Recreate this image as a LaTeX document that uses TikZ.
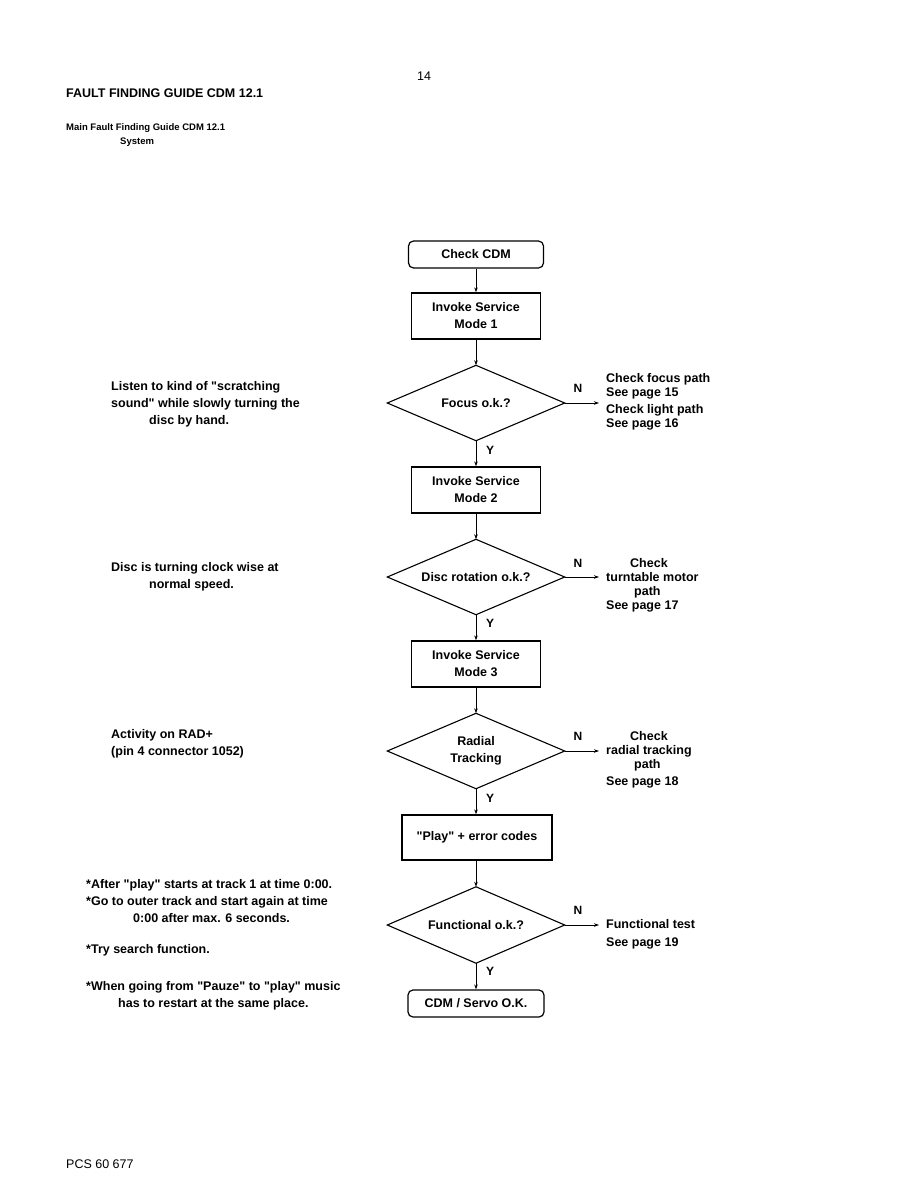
\documentclass[tikz,border=0pt]{standalone}
\usepackage{fontspec}
\setmainfont{Liberation Sans}[Ligatures=TeXOff]
\usetikzlibrary{arrows.meta}
\newcommand{\dq}{\symbol{34}}
\begin{document}
\begin{tikzpicture}[x=1pt,y=-1pt,
  every node/.style={font=\bfseries\fontsize{12.5}{17}\selectfont, inner sep=0pt},
  proc/.style={draw, line width=1.3pt, minimum width=129pt, minimum height=46pt, align=center},
  term/.style={draw, rounded corners=5pt, line width=1.2pt, minimum width=135pt, minimum height=27pt},
  dec/.style={minimum width=177pt, minimum height=75pt, align=center},
  decline/.style={line width=1.1pt, line join=miter},
  arr/.style={-{Stealth[length=5pt,width=3.5pt]}, line width=0.8pt},
  side/.style={anchor=north west, align=left},
  rside/.style={anchor=north west, align=left, font=\bfseries\fontsize{12.5}{14}\selectfont},
  yn/.style={font=\bfseries\fontsize{12}{14}\selectfont},
  plain/.style={font=\fontsize{12.5}{15}\selectfont}
]
\useasboundingbox (0,0) rectangle (918,1188);
\fill[white] (0,0) rectangle (918,1188);

% header
\node[plain] (pg) at (424,76) {14};
\node[anchor=west] (title) at (66,93) {FAULT FINDING GUIDE CDM 12.1};
\node[anchor=north west, align=left, font=\bfseries\fontsize{9.5}{14}\selectfont] (sub) at (66,123)
  {Main Fault Finding Guide CDM 12.1\\\hspace*{54pt}System};
\node[plain, anchor=west] (pcs) at (66,1164) {PCS 60 677};

% flow
\node[term] (check) at (476,254.5) {Check CDM};
\node[proc] (m1) at (476,316) {Invoke Service\\Mode 1};
\node[dec] (d1) at (476,403) {Focus o.k.?};
\node[proc] (m2) at (476,490) {Invoke Service\\Mode 2};
\node[dec] (d2) at (476,577) {Disc rotation o.k.?};
\node[proc] (m3) at (476,664) {Invoke Service\\Mode 3};
\node[dec] (d3) at (476,751) {Radial\\Tracking};
\node[proc, minimum width=150pt, minimum height=45pt] (play) at (477,837.5) {\dq Play\dq{} + error codes};
\node[dec, minimum height=76pt] (d4) at (476,925) {Functional o.k.?};
\node[term, minimum width=136pt] (ok) at (476,1003.5) {CDM / Servo O.K.};

\foreach \d in {d1,d2,d3,d4}
  \draw[decline] (\d.north) -- (\d.east) -- (\d.south) -- (\d.west) -- cycle;

\draw[arr] (check.south) -- (m1.north);
\draw[arr] (m1.south) -- (d1.north);
\draw[arr] (d1.south) -- (m2.north);
\draw[arr] (m2.south) -- (d2.north);
\draw[arr] (d2.south) -- (m3.north);
\draw[arr] (m3.south) -- (d3.north);
\draw[arr] (d3.south) -- (play.north -| d3.south);
\draw[arr] (play.south -| d4.north) -- (d4.north);
\draw[arr] (d4.south) -- (ok.north);

\node[yn] (y1) at (490,450) {Y};
\node[yn] (y2) at (490,623) {Y};
\node[yn] (y3) at (490,798) {Y};
\node[yn] (y4) at (490,971) {Y};
\node[yn] (n1) at (578,388) {N};
\node[yn] (n2) at (578,563) {N};
\node[yn] (n3) at (578,736) {N};
\node[yn] (n4) at (578,910) {N};

\coordinate (e1) at (599,403);
\coordinate (e2) at (599,577);
\coordinate (e3) at (599,751);
\coordinate (e4) at (599,925);
\draw[arr] (d1.east) -- (e1);
\draw[arr] (d2.east) -- (e2);
\draw[arr] (d3.east) -- (e3);
\draw[arr] (d4.east) -- (e4);

% right texts
\node[rside] (r1) at (606,373) {Check focus path\\See page 15\\[3pt]Check light path\\See page 16};
\node[rside] (r2) at (606,558) {\hspace*{24pt}Check\\turntable motor\\\hspace*{28pt}path\\See page 17};
\node[rside] (r3) at (606,731) {\hspace*{24pt}Check\\radial tracking\\\hspace*{28pt}path\\[3pt]See page 18};
\node[rside] (r4) at (606,919) {Functional test\\[4pt]See page 19};

% left texts
\node[side] (l1) at (111,381) {Listen to kind of \dq scratching\\sound\dq{} while slowly turning the\\\hspace*{38pt}disc by hand.};
\node[side] (l2) at (111,562) {Disc is turning clock wise at\\\hspace*{38pt}normal speed.};
\node[side] (l3) at (111,729) {Activity on RAD+\\(pin 4 connector 1052)};
\node[side] (l4) at (86,879) {*After \dq play\dq{} starts at track 1 at time 0:00.\\*Go to outer track and start again at time\\\hspace*{47pt}0:00 after max. 6 seconds.};
\node[side] (l5) at (86,944) {*Try search function.};
\node[side] (l6) at (86,981) {*When going from \dq Pauze\dq{} to \dq play\dq{} music\\\hspace*{32pt}has to restart at the same place.};
\end{tikzpicture}
\end{document}
